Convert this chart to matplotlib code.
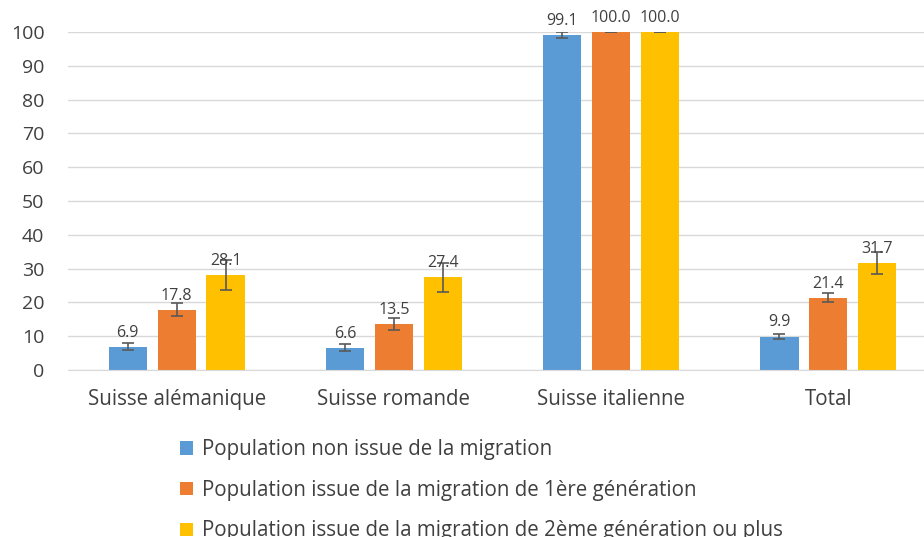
import matplotlib
matplotlib.use("Agg")
import matplotlib.pyplot as plt
import numpy as np

categories = ["Suisse alémanique", "Suisse romande", "Suisse italienne", "Total"]
series_names = ["Population non issue de la migration",
                "Population issue de la migration de 1ère génération",
                "Population issue de la migration de 2ème génération ou plus"]
values_non = [6.9, 6.6, 99.1, 9.9]
values_g1 = [17.8, 13.5, 100.0, 21.4]
values_g2 = [28.1, 27.4, 100.0, 31.7]
err_non = [1.0, 1.1, 0.8, 0.7]
err_g1 = [1.9, 1.8, 0.0, 1.3]
err_g2 = [4.3, 4.3, 0.0, 3.3]
yticks = list(range(0, 101, 10))

colors = ["#5B9BD5", "#ED7D31", "#FFC000"]
plt.rcParams['font.family'] = ['Open Sans', 'DejaVu Sans']
text_col = "#404040"

fig = plt.figure(figsize=(9.24, 5.37), dpi=100)
ax = fig.add_axes([68/924, 1-370/537, (937-68)/924, (370-32)/537])

x = np.arange(len(categories))
width = 0.175
step = 0.225
all_vals = [values_non, values_g1, values_g2]
all_errs = [err_non, err_g1, err_g2]
handles = []
for i, (vals, errs, c, name) in enumerate(zip(all_vals, all_errs, colors, series_names)):
    pos = x + (i - 1) * step
    b = ax.bar(pos, vals, width, color=c, label=name, zorder=2,
               yerr=errs, error_kw=dict(ecolor="#595959", elinewidth=1.2, capsize=4, capthick=1.2, zorder=3))
    handles.append(b)
    for p, v in zip(pos, vals):
        ax.text(p, v + 1.8, f"{v:.1f}", ha="center", va="bottom", fontsize=11.5, color=text_col, zorder=4)

ax.set_xlim(-0.5, len(categories) - 0.5)
ax.set_ylim(0, 100)
ax.set_yticks(yticks)
ax.set_xticks(x)
ax.set_xticklabels(categories, fontsize=14.8, color=text_col)
ax.tick_params(axis='y', labelsize=14, labelcolor=text_col, length=0, pad=17)
ax.tick_params(axis='x', length=0, pad=14)
ax.grid(axis='y', color="#D9D9D9", linewidth=1, zorder=0)
for s in ["top", "right", "left"]:
    ax.spines[s].set_visible(False)
ax.spines["bottom"].set_color("#D9D9D9")
ax.set_axisbelow(True)

leg = fig.legend(handles=handles, labels=series_names, loc="upper left",
                 bbox_to_anchor=(172/924, 1-431/537), ncol=1, frameon=False,
                 fontsize=14.8, handlelength=0.6, handleheight=0.6, handletextpad=0.45,
                 labelspacing=0.95, borderaxespad=0)
for t in leg.get_texts():
    t.set_color(text_col)

fig.savefig("out.png", dpi=100)
